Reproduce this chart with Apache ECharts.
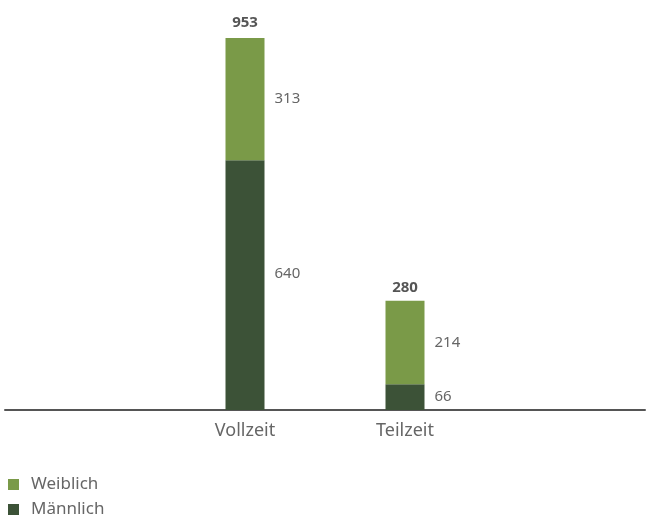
<!DOCTYPE html>
<html><head><meta charset="utf-8">
<script src="https://cdn.jsdelivr.net/npm/echarts@6/dist/echarts.min.js"></script>
<style>html,body{margin:0;padding:0;background:#fff}#c{width:651px;height:516px}</style>
</head><body><div id="c"></div>
<script>
const categories = ['Vollzeit', 'Teilzeit'];
const maennlich = [640, 66];
const weiblich = [313, 214];
const totals = [953, 280];

const axisCats = [''].concat(categories, ['']);
const pad = arr => [null].concat(arr, [null]);
const font = 'Noto Sans';
const chart = echarts.init(document.getElementById('c'));
const maleData = pad(maennlich).map((v, i) => i === 1 ? { value: v, label: { offset: [0, -11] } } : v);
const totalData = pad(totals).map((v, i) => i === 1 ? { value: v, label: { offset: [0, -3] } } : v);
const legendBase = {
  orient: 'vertical', left: 8, padding: 0, itemWidth: 11, itemHeight: 11,
  textStyle: { fontSize: 17, color: '#666', fontFamily: font, padding: [0, 0, 0, 7] },
  icon: 'rect'
};
chart.setOption({
  animation: false,
  textStyle: { fontFamily: font },
  grid: { left: 5, right: 6, top: 19.6, bottom: 106 },
  legend: [
    Object.assign({}, legendBase, { top: 476, data: ['Weiblich'] }),
    Object.assign({}, legendBase, { top: 501, data: ['Männlich'] })
  ],
  xAxis: {
    type: 'category', data: axisCats,
    axisLine: { lineStyle: { color: '#555', width: 2 } },
    axisTick: { show: false },
    axisLabel: { fontSize: 18, color: '#666', margin: 12, fontFamily: font }
  },
  yAxis: { type: 'value', min: 0, max: 1000, show: false, splitLine: { show: false } },
  series: [
    {
      name: 'Männlich', type: 'bar', stack: 's', barWidth: 39, data: maleData,
      itemStyle: { color: '#3c5237' },
      label: { show: true, position: 'right', distance: 10, fontSize: 15, color: '#666', fontFamily: font }
    },
    {
      name: 'Weiblich', type: 'bar', stack: 's', barWidth: 39, data: pad(weiblich),
      itemStyle: { color: '#7a9a48' },
      label: { show: true, position: 'right', distance: 10, fontSize: 15, color: '#666', fontFamily: font }
    },
    {
      name: 'Gesamt', type: 'bar', barWidth: 39, barGap: '-100%', data: totalData, z: 1,
      itemStyle: { color: 'rgba(0,0,0,0)' },
      label: { show: true, position: 'top', distance: 5, fontSize: 15, fontWeight: 'bold', color: '#555', fontFamily: font }
    }
  ]
});
</script></body></html>
